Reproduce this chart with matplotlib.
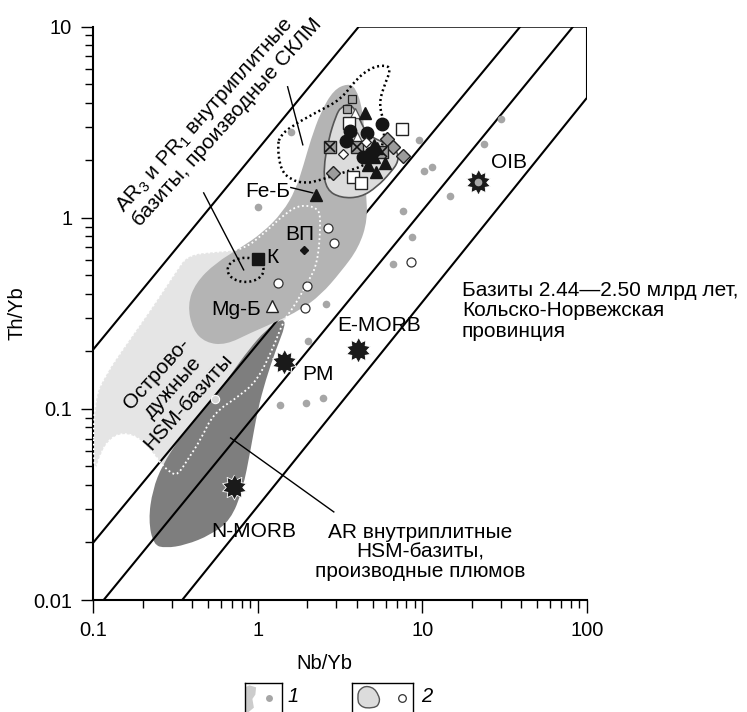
import numpy as np
import matplotlib.pyplot as plt
from matplotlib.patches import PathPatch, Polygon
from matplotlib.path import Path
from matplotlib.ticker import FuncFormatter, NullFormatter

plt.rcParams['font.family'] = ['Liberation Sans', 'DejaVu Sans']
plt.rcParams['mathtext.fontset'] = 'custom'
plt.rcParams['mathtext.rm'] = 'Liberation Sans'
plt.rcParams['mathtext.it'] = 'Liberation Sans:italic'

# --- discrimination lines (Nb/Yb, Th/Yb end points) ---
frame_x = [0.1, 4.11, 100, 100, 0.348]
frame_y = [0.204, 10, 10, 4.25, 0.01]
line_b_x = [0.1, 39.3]
line_b_y = [0.0199, 10]
line_c_x = [0.116, 82.2]
line_c_y = [0.01, 10]

# --- fields ---
arc_x = [0.101, 0.119, 0.158, 0.224, 0.318, 0.375, 0.556, 0.822, 1.12, 1.48, 1.82, 2.32, 2.42,
         2.32, 2.01, 1.66, 1.44, 1.25, 1.0, 0.788, 0.540, 0.450, 0.375, 0.327, 0.296, 0.257,
         0.224, 0.187, 0.153, 0.128, 0.111, 0.101]
arc_y = [0.111, 0.151, 0.216, 0.330, 0.521, 0.640, 0.664, 0.680, 0.845, 1.06, 1.17, 1.13, 0.977,
         0.581, 0.457, 0.342, 0.292, 0.211, 0.142, 0.118, 0.0953, 0.0688, 0.0541, 0.0451, 0.0462,
         0.0521, 0.0610, 0.0713, 0.0748, 0.0705, 0.0589, 0.0441]

sclm_x = [0.375, 0.420, 0.556, 0.788, 1.07, 1.42, 1.70, 1.90, 2.10, 2.42, 2.90, 3.52, 3.94,
          4.35, 4.53, 4.53, 4.66, 4.11, 3.20, 2.42, 1.82, 1.29, 0.906, 0.639, 0.483, 0.403]
sclm_y = [0.351, 0.457, 0.581, 0.697, 0.834, 1.07, 1.40, 1.89, 2.56, 3.59, 4.68, 5.04, 4.80,
          3.68, 2.27, 1.40, 0.977, 0.697, 0.521, 0.395, 0.330, 0.285, 0.250, 0.216, 0.222, 0.259]

plume_x = [0.233, 0.217, 0.230, 0.264, 0.331, 0.420, 0.540, 0.685, 0.881, 1.12, 1.42, 1.48,
           1.29, 1.12, 1.0, 0.906, 0.811, 0.685, 0.518, 0.365, 0.276]
plume_y = [0.0194, 0.0262, 0.0377, 0.0509, 0.0688, 0.0897, 0.114, 0.151, 0.204, 0.259, 0.299,
           0.275, 0.204, 0.142, 0.0988, 0.0610, 0.0377, 0.0262, 0.0219, 0.0194, 0.0187]

kola_x = [3.20, 3.68, 4.05, 4.60, 6.00, 7.00, 7.20, 6.40, 5.30, 4.23, 3.20, 2.62, 2.50, 2.70, 2.98]
kola_y = [3.81, 3.95, 3.46, 2.72, 2.45, 2.27, 1.98, 1.72, 1.45, 1.28, 1.27, 1.40, 1.78, 2.60, 3.40]

dot_x = [1.32, 1.38, 1.59, 1.96, 2.42, 3.43, 4.53, 5.75, 5.92, 5.44, 5.83, 6.44, 6.00, 4.86,
         3.94, 3.20, 2.25, 1.59, 1.36]
dot_y = [2.35, 1.78, 1.58, 1.51, 1.58, 1.74, 1.89, 2.27, 3.07, 3.91, 4.85, 5.96, 6.32, 6.10,
         5.28, 4.15, 3.55, 3.00, 2.66]

k_centre = (0.845, 0.534)
k_radius = (0.109, 0.063)   # decades

# --- samples ---
grey_x = [1.59, 1.0, 7.61, 8.63, 6.62, 2.59, 2.01, 2.48, 1.96, 1.36, 10.2, 11.4, 14.7, 30.0,
          23.6, 9.52, 21.2]
grey_y = [2.82, 1.14, 1.09, 0.796, 0.574, 0.355, 0.227, 0.114, 0.107, 0.105, 1.76, 1.85, 1.30,
          3.30, 2.44, 2.56, 1.45]
grey_edge_x = [0.548]
grey_edge_y = [0.113]
open_x = [2.66, 2.90, 1.32, 1.99, 1.93, 8.51]
open_y = [0.887, 0.740, 0.457, 0.441, 0.338, 0.589]

ref_names = ['OIB', 'E-MORB', 'PM', 'N-MORB']
ref_x = [21.7, 4.05, 1.44, 0.714]
ref_y = [1.54, 0.204, 0.176, 0.0391]

sq_small_x = [3.73, 3.48]
sq_small_y = [4.20, 3.72]
tri_open_x = [3.89, 4.00]
tri_open_y = [3.55, 2.66]
tri_black_x = [4.47, 5.07, 4.66, 5.21, 5.92, 5.07, 5.29, 2.25]
tri_black_y = [3.55, 2.41, 1.89, 1.74, 1.94, 2.09, 2.32, 1.32]
sq_open_x = [3.57, 7.50, 3.78, 4.23]
sq_open_y = [3.14, 2.92, 1.64, 1.52]
circ_black_x = [5.67, 3.63, 4.60, 3.43, 4.35, 4.86]
circ_black_y = [3.11, 2.85, 2.79, 2.53, 2.09, 2.19]
dia_grey_x = [6.09, 6.62, 7.61, 2.86]
dia_grey_y = [2.59, 2.35, 2.11, 1.72]
sq_cross_x = [2.74, 4.00, 5.67]
sq_cross_y = [2.35, 2.35, 2.22]
dia_small_x = [3.29, 4.53]
dia_small_y = [2.16, 2.50]
k_x, k_y = [1.0], [0.610]
vp_x, vp_y = [1.90], [0.680]
mgb_x, mgb_y = [1.22], [0.346]


def smooth_path(xs, ys):
    x = np.asarray(xs, float)
    y = np.asarray(ys, float)
    mx = np.sqrt(x * np.roll(x, -1))
    my = np.sqrt(y * np.roll(y, -1))
    verts = [(mx[-1], my[-1])]
    codes = [Path.MOVETO]
    for i in range(len(x)):
        verts += [(x[i], y[i]), (mx[i], my[i])]
        codes += [Path.CURVE3, Path.CURVE3]
    return Path(verts, codes)


fig = plt.figure(figsize=(7.47, 7.12), dpi=100)
ax = fig.add_axes([0.1245, 0.1573, 0.6613, 0.8052])
ax.set_xscale('log')
ax.set_yscale('log')
ax.set_xlim(0.1, 100)
ax.set_ylim(0.01, 10)

ax.add_patch(PathPatch(smooth_path(arc_x, arc_y), fc='#e5e5e5', ec='none', zorder=1))
ax.add_patch(PathPatch(smooth_path(plume_x, plume_y), fc='#7e7e7e', ec='none', zorder=2))

ax.plot(frame_x, frame_y, color='black', lw=1.5, zorder=3)
ax.plot(line_b_x, line_b_y, color='black', lw=1.5, zorder=3)
ax.plot(line_c_x, line_c_y, color='black', lw=1.5, zorder=3)

ax.add_patch(PathPatch(smooth_path(sclm_x, sclm_y), fc='#b4b4b4', ec='none', zorder=4))
ax.add_patch(PathPatch(smooth_path(arc_x, arc_y), fc='none', ec='white', lw=1.3,
                       ls=(0, (1, 1.5)), zorder=4.5))
ax.add_patch(PathPatch(smooth_path(kola_x, kola_y), fc='#dcdcdc', ec='#555555', lw=1.2, zorder=5))
ax.add_patch(PathPatch(smooth_path(dot_x, dot_y), fc='none', ec='black', lw=1.8,
                       ls=(0, (0.8, 1.2)), zorder=6))

t = np.linspace(0, 2 * np.pi, 60)
ax.plot(10 ** (np.log10(k_centre[0]) + k_radius[0] * np.cos(t)),
        10 ** (np.log10(k_centre[1]) + k_radius[1] * np.sin(t)),
        color='black', lw=1.8, ls=(0, (0.8, 1.2)), zorder=6)

# leader lines
ax.plot([1.52, 1.88], [4.85, 2.41], color='black', lw=1, zorder=6)
ax.plot([0.470, 0.822], [1.35, 0.534], color='black', lw=1, zorder=6)
ax.plot([1.59, 2.16], [1.44, 1.35], color='black', lw=1, zorder=6)
ax.plot([0.685, 2.90], [0.0705, 0.0289], color='black', lw=1, zorder=6)

# samples
ax.plot(grey_x, grey_y, 'o', ms=5.5, mfc='#a6a6a6', mec='none', zorder=7)
ax.plot(grey_edge_x, grey_edge_y, 'o', ms=6, mfc='#d8d8d8', mec='white', mew=0.8, zorder=7)
ax.plot(open_x, open_y, 'o', ms=6.5, mfc='white', mec='#333333', mew=0.9, zorder=7)

n = 10
ang = np.linspace(0, 2 * np.pi, 2 * n, endpoint=False) + np.pi / 2
rad = np.where(np.arange(2 * n) % 2 == 0, 1.0, 0.66)
star = np.column_stack([rad * np.cos(ang), rad * np.sin(ang)])
ax.plot(ref_x, ref_y, ls='none', marker=star, ms=18, mfc='#1a1a1a', mec='white', mew=0.6, zorder=8)
ax.plot(ref_x[:1], ref_y[:1], 'o', ms=5.5, mfc='#a6a6a6', mec='none', zorder=8.5)

ax.plot(sq_small_x, sq_small_y, 's', ms=5.5, mfc='#a8a8a8', mec='#222222', mew=0.9, zorder=8)
ax.plot(tri_open_x, tri_open_y, '^', ms=6.5, mfc='white', mec='#555555', mew=0.9, zorder=8)
ax.plot(sq_open_x, sq_open_y, 's', ms=9, mfc='white', mec='#222222', mew=1, zorder=8)
ax.plot(dia_grey_x, dia_grey_y, 'D', ms=7.5, mfc='#9c9c9c', mec='#222222', mew=1, zorder=8)
ax.plot(sq_cross_x, sq_cross_y, 's', ms=8, mfc='#9c9c9c', mec='#222222', mew=1, zorder=8)
ax.plot(sq_cross_x, sq_cross_y, 'x', ms=7, mec='#111111', mew=1.2, zorder=8.2)
ax.plot(circ_black_x, circ_black_y, 'o', ms=9, mfc='#151515', mec='#151515', zorder=8.3)
ax.plot(tri_black_x, tri_black_y, '^', ms=8.5, mfc='#151515', mec='#151515', zorder=8.4)
ax.plot(dia_small_x, dia_small_y, 'D', ms=5, mfc='white', mec='#222222', mew=0.9, zorder=8.5)
ax.plot(k_x, k_y, 's', ms=8, mfc='#151515', mec='#151515', zorder=8)
ax.plot(vp_x, vp_y, 'D', ms=4.5, mfc='#151515', mec='#151515', zorder=8)
ax.plot(mgb_x, mgb_y, '^', ms=9, mfc='white', mec='#222222', mew=1, zorder=8)

# labels
fs = 15
ax.text(1.15, 1.37, 'Fe-Б', fontsize=fs, ha='center', va='center', zorder=9)
ax.text(1.23, 0.618, 'К', fontsize=fs, ha='center', va='center', zorder=9)
ax.text(1.80, 0.815, 'ВП', fontsize=fs, ha='center', va='center', zorder=9)
ax.text(0.745, 0.330, 'Mg-Б', fontsize=fs, ha='center', va='center', zorder=9)
ax.text(5.44, 0.272, 'E-MORB', fontsize=fs, ha='center', va='center', zorder=9)
ax.text(2.32, 0.151, 'PM', fontsize=fs, ha='center', va='center', zorder=9)
ax.text(33.6, 1.94, 'OIB', fontsize=fs, ha='center', va='center', zorder=9)
ax.text(0.945, 0.0227, 'N-MORB', fontsize=fs, ha='center', va='center', zorder=9)
ax.text(9.66, 0.0178, 'AR внутриплитные\nHSM-базиты,\nпроизводные плюмов', fontsize=fs,
        ha='center', va='center', multialignment='center', linespacing=1.05, zorder=9)
ax.text(17.4, 0.326, 'Базиты 2.44—2.50 млрд лет,\nКольско-Норвежская\nпровинция', fontsize=fs,
        ha='left', va='center', linespacing=1.1, zorder=9)
ax.text(0.162, 1.02, 'AR$_3$ и PR$_1$ внутриплитные\nбазиты, производные СКЛМ', fontsize=fs,
        rotation=48, rotation_mode='anchor', ha='left', va='center', linespacing=1.05, zorder=9)
ax.text(0.304, 0.129, 'Острово-\nдужные\nHSM-базиты', fontsize=fs, rotation=48,
        rotation_mode='anchor', ha='center', va='center', multialignment='center',
        linespacing=1.15, zorder=9)

for s in ['top', 'right']:
    ax.spines[s].set_visible(False)
for s in ['left', 'bottom']:
    ax.spines[s].set_linewidth(1.5)
fmt = FuncFormatter(lambda v, p: f'{v:g}')
ax.xaxis.set_major_formatter(fmt)
ax.yaxis.set_major_formatter(fmt)
ax.xaxis.set_minor_formatter(NullFormatter())
ax.yaxis.set_minor_formatter(NullFormatter())
ax.tick_params(which='major', direction='out', length=9, width=1, labelsize=14.5, pad=6)
ax.tick_params(which='minor', direction='out', length=6, width=1)
ax.set_xlabel('Nb/Yb', fontsize=14.5)
ax.set_ylabel('Th/Yb', fontsize=14.5)
ax.xaxis.set_label_coords(0.468, -0.095)
ax.yaxis.set_label_coords(-0.135, 0.5)

# legend boxes
lax1 = fig.add_axes([245 / 747, 0, 37 / 747, 29 / 712])
lax2 = fig.add_axes([352 / 747, 0, 61 / 747, 29 / 712])
for la in (lax1, lax2):
    la.set_xlim(0, 1)
    la.set_ylim(0, 1)
    la.set_xticks([])
    la.set_yticks([])
    la.spines['bottom'].set_visible(False)
    for s in ['left', 'top', 'right']:
        la.spines[s].set_linewidth(1)
lax1.add_patch(Polygon([(0, 0.85), (0.12, 0.92), (0.3, 0.85), (0.28, 0.6), (0.2, 0.45),
                        (0.24, 0.15), (0.1, 0.0), (0, 0)], closed=True, fc='#cccccc', ec='none'))
lax1.plot([0.65], [0.5], 'o', ms=5, mfc='#a6a6a6', mec='none')
lax2.add_patch(PathPatch(smooth_path([0.18, 0.38, 0.48, 0.36, 0.14, 0.08],
                                     [0.9, 0.85, 0.4, 0.12, 0.18, 0.6]),
                         fc='#dcdcdc', ec='#555555', lw=1, transform=lax2.transData))
lax2.plot([0.82], [0.5], 'o', ms=5.5, mfc='white', mec='#333333', mew=0.9)
fig.text(287 / 747, 15 / 712, '1', fontsize=14.5, style='italic', ha='left', va='center')
fig.text(421 / 747, 15 / 712, '2', fontsize=14.5, style='italic', ha='left', va='center')

fig.savefig('out.png', dpi=100)
